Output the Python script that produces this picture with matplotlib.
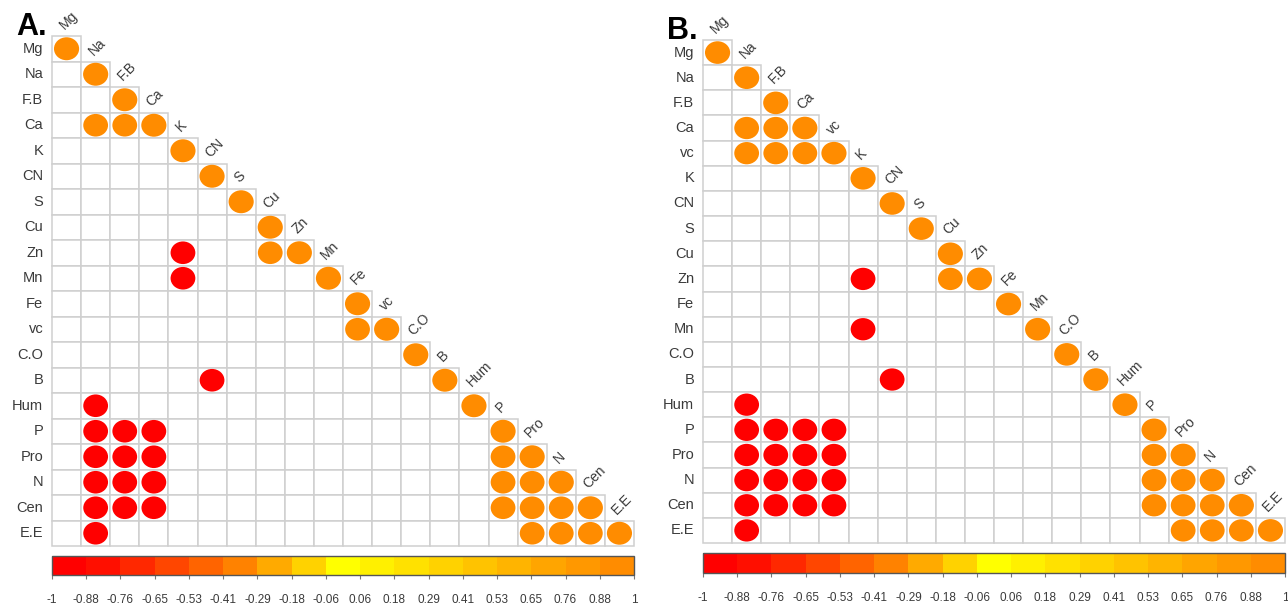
import numpy as np
import matplotlib
matplotlib.use("Agg")
import matplotlib.pyplot as plt
from matplotlib.colors import ListedColormap, BoundaryNorm
from matplotlib.cm import ScalarMappable
from matplotlib.patches import Rectangle, Ellipse

plt.rcParams["font.family"] = ["Liberation Sans", "DejaVu Sans"]

# --- datos -------------------------------------------------------------
vars_a = ["Mg", "Na", "F.B", "Ca", "K", "CN", "S", "Cu", "Zn", "Mn",
          "Fe", "vc", "C.O", "B", "Hum", "P", "Pro", "N", "Cen", "E.E"]
pos_a = [("Ca", "Na"), ("Ca", "F.B"), ("Zn", "Cu"), ("vc", "Fe"),
         ("Pro", "P"), ("N", "P"), ("N", "Pro"), ("Cen", "P"), ("Cen", "Pro"),
         ("Cen", "N"), ("E.E", "Pro"), ("E.E", "N"), ("E.E", "Cen")]
neg_a = [("Zn", "K"), ("Mn", "K"), ("B", "CN"), ("Hum", "Na"),
         ("P", "Na"), ("P", "F.B"), ("P", "Ca"),
         ("Pro", "Na"), ("Pro", "F.B"), ("Pro", "Ca"),
         ("N", "Na"), ("N", "F.B"), ("N", "Ca"),
         ("Cen", "Na"), ("Cen", "F.B"), ("Cen", "Ca"), ("E.E", "Na")]

vars_b = ["Mg", "Na", "F.B", "Ca", "vc", "K", "CN", "S", "Cu", "Zn",
          "Fe", "Mn", "C.O", "B", "Hum", "P", "Pro", "N", "Cen", "E.E"]
pos_b = [("Ca", "Na"), ("Ca", "F.B"), ("vc", "Na"), ("vc", "F.B"), ("vc", "Ca"),
         ("Zn", "Cu"), ("Pro", "P"), ("N", "P"), ("N", "Pro"), ("Cen", "P"),
         ("Cen", "Pro"), ("Cen", "N"), ("E.E", "Pro"), ("E.E", "N"), ("E.E", "Cen")]
neg_b = [("Zn", "K"), ("Mn", "K"), ("B", "CN"), ("Hum", "Na"),
         ("P", "Na"), ("P", "F.B"), ("P", "Ca"), ("P", "vc"),
         ("Pro", "Na"), ("Pro", "F.B"), ("Pro", "Ca"), ("Pro", "vc"),
         ("N", "Na"), ("N", "F.B"), ("N", "Ca"), ("N", "vc"),
         ("Cen", "Na"), ("Cen", "F.B"), ("Cen", "Ca"), ("Cen", "vc"), ("E.E", "Na")]

r_pos = 0.97   # correlación estimada de los círculos naranjas
r_neg = -0.97  # correlación estimada de los círculos rojos

cbar_ticks = np.linspace(-1, 1, 18)
cbar_labels = ["-1", "-0.88", "-0.76", "-0.65", "-0.53", "-0.41", "-0.29", "-0.18",
               "-0.06", "0.06", "0.18", "0.29", "0.41", "0.53", "0.65", "0.76",
               "0.88", "1"]

# paleta discreta rojo -> amarillo -> naranja (17 tramos)
verdes = [0, 15, 40, 70, 100, 130, 170, 210, 255, 240, 225, 210, 195, 180, 165, 152, 140]
cmap = ListedColormap([(1.0, g / 255, 0.0) for g in verdes])
norm = BoundaryNorm(cbar_ticks, cmap.N)

W, H = 1288, 605
fig = plt.figure(figsize=(W / 100, H / 100), dpi=100)
gris = "#3a3a3a"


def px_axes(x0, y0, x1, y1):
    return fig.add_axes([x0 / W, 1 - y1 / H, (x1 - x0) / W, (y1 - y0) / H])


def matriz(nombres, pos, neg, caja, cbar_caja, letra, letra_xy):
    n = len(nombres)
    idx = {v: i for i, v in enumerate(nombres)}
    ax = px_axes(*caja)
    ax.set_xlim(0, n)
    ax.set_ylim(n, 0)
    ax.axis("off")
    for i in range(n):
        for j in range(i + 1):
            ax.add_patch(Rectangle((j, i), 1, 1, facecolor="white",
                                   edgecolor="#cfcfcf", lw=1.1, clip_on=False))
    valores = [(v, v, 1.0) for v in nombres]
    valores += [(a, b, r_pos) for a, b in pos]
    valores += [(a, b, r_neg) for a, b in neg]
    for a, b, r in valores:
        i, j = idx[a], idx[b]
        d = 0.9 * np.sqrt(abs(r))
        ax.add_patch(Ellipse((j + 0.5, i + 0.5), d * 0.96, d, facecolor=cmap(norm(r)),
                             edgecolor="none", clip_on=False))
    for i, v in enumerate(nombres):
        ax.text(-0.3, i + 0.5, v, ha="right", va="center", fontsize=10.5, color=gris)
        ax.text(i + 0.5, i - 0.15, v, rotation=45, rotation_mode="anchor",
                ha="left", va="bottom", fontsize=10, color=gris)
    fig.text(letra_xy[0] / W, 1 - letra_xy[1] / H, letra, fontsize=22,
             fontweight="bold", ha="left", va="baseline")

    cax = px_axes(*cbar_caja)
    cb = fig.colorbar(ScalarMappable(norm=norm, cmap=cmap), cax=cax,
                      orientation="horizontal", ticks=cbar_ticks)
    cb.set_ticklabels(cbar_labels)
    cb.outline.set_edgecolor("#555555")
    cb.outline.set_linewidth(1)
    cax.tick_params(length=3, width=0.8, color="#777777", labelsize=8.5,
                    labelcolor=gris, pad=11)


matriz(vars_a, pos_a, neg_a, (52, 36, 634, 546), (52, 556, 634, 575), "A.", (16, 35))
matriz(vars_b, pos_b, neg_b, (703, 40, 1285, 543), (703, 553, 1285, 573), "B.", (667, 39))

fig.savefig("out.png", dpi=100)
